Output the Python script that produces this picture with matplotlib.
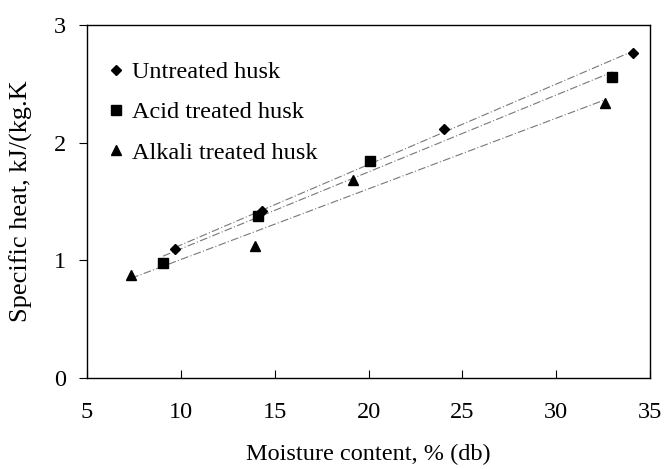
import numpy as np
import matplotlib
matplotlib.use("Agg")
import matplotlib.pyplot as plt

# moisture content (% db) and specific heat (kJ/kg.K)
untreated_x = [9.7, 14.3, 24.0, 34.1]
untreated_y = [1.10, 1.42, 2.12, 2.76]
acid_x = [9.05, 14.1, 20.1, 33.0]
acid_y = [0.98, 1.38, 1.84, 2.56]
alkali_x = [7.35, 13.95, 19.2, 32.6]
alkali_y = [0.875, 1.12, 1.68, 2.34]

series = [
    ("Untreated husk", untreated_x, untreated_y, "D", 5),
    ("Acid treated husk", acid_x, acid_y, "s", 6.5),
    ("Alkali treated husk", alkali_x, alkali_y, "^", 6.5),
]

x_ticks = [5, 10, 15, 20, 25, 30, 35]
y_ticks = [0, 1, 2, 3]

plt.rcParams["font.family"] = ["Liberation Serif", "DejaVu Serif"]

fig = plt.figure(figsize=(6.64, 4.69), dpi=100)
ax = fig.add_axes([87 / 664, 1 - 378 / 469, (650 - 87) / 664, (378 - 25) / 469])

for label, xs, ys, marker, ms in series:
    xs = np.array(xs)
    ys = np.array(ys)
    k, b = np.polyfit(xs, ys, 1)
    xl = np.array([xs.min(), xs.max()])
    ax.plot(xl, k * xl + b, color="#777777", linewidth=0.8,
            linestyle=(0, (7, 2, 1, 2)), zorder=1)
    ax.plot(xs, ys, linestyle="none", marker=marker, markersize=ms,
            color="black", label=label, zorder=2)

ax.set_xlim(5, 35)
ax.set_ylim(0, 3)
ax.set_xticks(x_ticks)
ax.set_yticks(y_ticks)
ax.tick_params(axis="x", direction="in", length=6, labelsize=17.5, pad=17)
ax.tick_params(axis="y", direction="out", length=6, labelsize=17.5, pad=9)
for spine in ax.spines.values():
    spine.set_linewidth(1.0)

ax.set_xlabel("Moisture content, % (db)", fontsize=17.5, labelpad=15)
ax.set_ylabel("Specific heat, kJ/(kg.K", fontsize=19, labelpad=15)

ax.legend(loc="upper left", frameon=False, fontsize=17.5, handlelength=0.6,
          handletextpad=0.35, labelspacing=0.75, borderaxespad=0.0,
          bbox_to_anchor=(0.022, 0.925))

fig.savefig("out.png", dpi=100)
